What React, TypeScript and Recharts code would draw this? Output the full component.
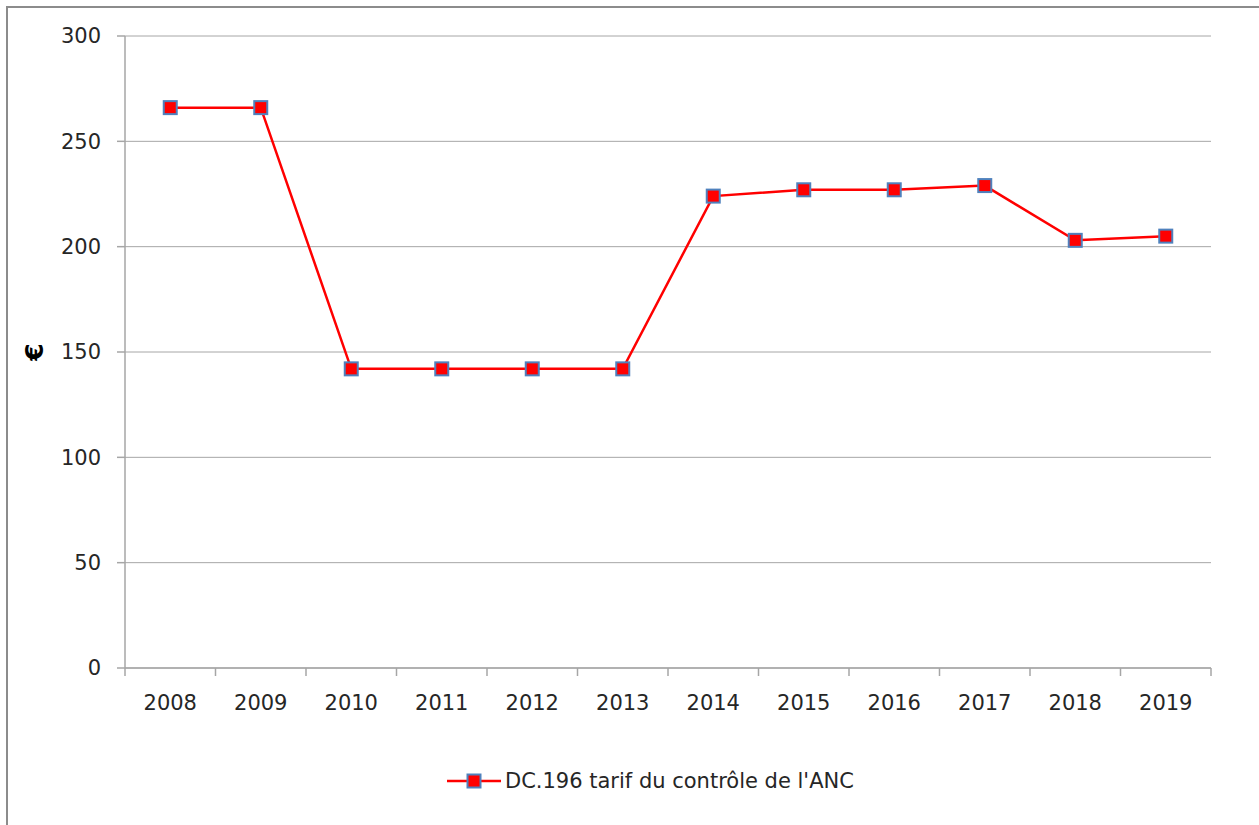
import React from "react";
import { CartesianGrid, Line, LineChart, XAxis, YAxis } from "recharts";

const YEARS = ["2008", "2009", "2010", "2011", "2012", "2013", "2014", "2015", "2016", "2017", "2018", "2019"];
const TARIF = [266, 266, 142, 142, 142, 142, 224, 227, 227, 229, 203, 205];
const Y_TICKS = [0, 50, 100, 150, 200, 250, 300];
const SERIES_NAME = "DC.196 tarif du contrôle de l'ANC";

const FONT = "'DejaVu Sans', sans-serif";
const AXIS_GRAY = "#a6a6a6";
const TEXT = "#262626";
const RED = "#ff0000";
const MARKER_EDGE = "#4f81bd";

// points sit in the middle of each year band, ticks on the band edges
const data = YEARS.map((year, i) => ({ x: i + 0.5, year, value: TARIF[i] }));
const boundTicks = YEARS.map((_, i) => i).concat(YEARS.length);
const labelTicks = YEARS.map((_, i) => i + 0.5);

function SquareDot({ cx, cy }: { cx?: number; cy?: number }) {
  if (cx == null || cy == null) return null;
  return (
    <rect x={cx - 6.5} y={cy - 6.5} width={13} height={13} fill={RED} stroke={MARKER_EDGE} strokeWidth={2} />
  );
}

function EuroLabel(props: any) {
  const vb = props.viewBox || {};
  const x = (vb.x ?? 0) + 34;
  const y = (vb.y ?? 0) + (vb.height ?? 0) / 2;
  return (
    <text
      x={x}
      y={y}
      transform={`rotate(-90 ${x} ${y})`}
      textAnchor="middle"
      dominantBaseline="central"
      fontFamily={FONT}
      fontSize={25}
      fontWeight={700}
      fill="#000"
    >
      €
    </text>
  );
}

export default function App() {
  return (
    <div style={{ position: "absolute", left: 0, top: 0, width: 1259, height: 825, overflow: "hidden", background: "#fff" }}>
      <div
        style={{
          position: "absolute",
          left: 6,
          top: 6,
          width: 1400,
          height: 1000,
          border: "2px solid #8c8c8c",
          boxSizing: "border-box"
        }}
      />
      <LineChart
        width={1259}
        height={825}
        data={data}
        margin={{ top: 36, right: 48, bottom: 99, left: 0 }}
        style={{ position: "absolute", left: 0, top: 0 }}
      >
        <CartesianGrid vertical={false} stroke={AXIS_GRAY} strokeWidth={1} />
        <XAxis
          xAxisId="bounds"
          type="number"
          dataKey="x"
          domain={[0, YEARS.length]}
          allowDataOverflow
          ticks={boundTicks}
          tickFormatter={() => ""}
          tickSize={8}
          height={8}
          axisLine={{ stroke: AXIS_GRAY, strokeWidth: 1.5 }}
          tickLine={{ stroke: AXIS_GRAY, strokeWidth: 1.5 }}
        />
        <XAxis
          xAxisId="labels"
          type="number"
          dataKey="x"
          domain={[0, YEARS.length]}
          allowDataOverflow
          ticks={labelTicks}
          tickFormatter={(v: number) => YEARS[Math.floor(v)] ?? ""}
          axisLine={false}
          tickLine={false}
          tickSize={0}
          tickMargin={19}
          height={50}
          interval={0}
          tick={{ fill: TEXT, fontFamily: FONT, fontSize: 21 }}
        />
        <YAxis
          domain={[0, 300]}
          ticks={Y_TICKS}
          width={125}
          tickSize={8}
          tickMargin={16}
          axisLine={{ stroke: AXIS_GRAY, strokeWidth: 1.5 }}
          tickLine={{ stroke: AXIS_GRAY, strokeWidth: 1.5 }}
          tick={{ fill: TEXT, fontFamily: FONT, fontSize: 21 }}
          label={<EuroLabel />}
        />
        <Line
          xAxisId="bounds"
          dataKey="value"
          name={SERIES_NAME}
          stroke={RED}
          strokeWidth={2.5}
          dot={<SquareDot />}
          activeDot={false}
          isAnimationActive={false}
        />
      </LineChart>
      <div
        style={{
          position: "absolute",
          left: 447,
          top: 768,
          height: 26,
          display: "flex",
          alignItems: "center",
          fontFamily: FONT,
          fontSize: 21,
          color: TEXT,
          whiteSpace: "nowrap"
        }}
      >
        <svg width={54} height={20} style={{ marginRight: 4 }}>
          <line x1={0} y1={10} x2={54} y2={10} stroke={RED} strokeWidth={2.5} />
          <rect x={20.5} y={3.5} width={13} height={13} fill={RED} stroke={MARKER_EDGE} strokeWidth={2} />
        </svg>
        <span>{SERIES_NAME}</span>
      </div>
    </div>
  );
}
